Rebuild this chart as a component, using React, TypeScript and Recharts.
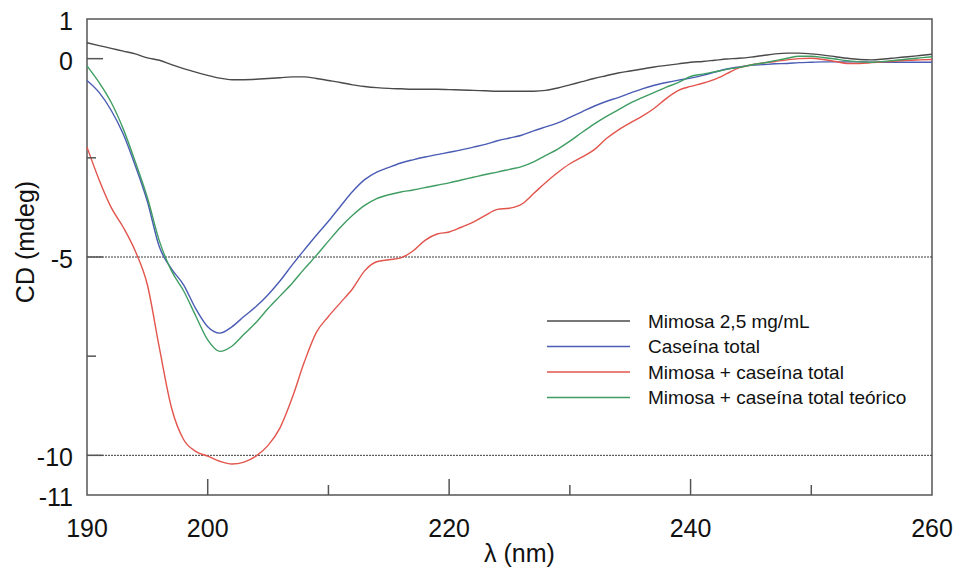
import React from 'react';
import { LineChart, Line, XAxis, YAxis, ReferenceLine, ReferenceArea, Legend } from 'recharts';

const wavelength = [
  190, 191, 192, 193, 194, 195, 196, 197, 198, 199,
  200, 201, 202, 203, 204, 205, 206, 207, 208, 209,
  210, 211, 212, 213, 214, 215, 216, 217, 218, 219,
  220, 221, 222, 223, 224, 225, 226, 227, 228, 229,
  230, 231, 232, 233, 234, 235, 236, 237, 238, 239,
  240, 241, 242, 243, 244, 245, 246, 247, 248, 249,
  250, 251, 252, 253, 254, 255, 256, 257, 258, 259, 260,
];

const mimosa = [
  0.40, 0.33, 0.26, 0.19, 0.12, 0.02, -0.04, -0.15, -0.25, -0.34,
  -0.42, -0.49, -0.53, -0.53, -0.52, -0.50, -0.48, -0.46, -0.46, -0.50,
  -0.55, -0.60, -0.66, -0.70, -0.73, -0.75, -0.76, -0.77, -0.77, -0.77,
  -0.78, -0.79, -0.80, -0.81, -0.82, -0.82, -0.82, -0.82, -0.80, -0.74,
  -0.66, -0.58, -0.50, -0.43, -0.36, -0.31, -0.26, -0.21, -0.17, -0.13,
  -0.09, -0.07, -0.04, -0.01, 0.01, 0.04, 0.08, 0.12, 0.14, 0.14,
  0.12, 0.09, 0.05, 0.01, -0.02, -0.03, -0.01, 0.02, 0.05, 0.08, 0.11,
];

const caseina = [
  -0.55, -0.85, -1.30, -1.90, -2.70, -3.60, -4.75, -5.30, -5.70, -6.30,
  -6.76, -6.92, -6.76, -6.50, -6.25, -5.95, -5.60, -5.20, -4.82, -4.45,
  -4.10, -3.72, -3.35, -3.05, -2.86, -2.74, -2.63, -2.55, -2.48, -2.42,
  -2.36, -2.30, -2.23, -2.16, -2.07, -2.00, -1.93, -1.82, -1.72, -1.62,
  -1.48, -1.34, -1.20, -1.08, -0.98, -0.87, -0.76, -0.67, -0.60, -0.54,
  -0.49, -0.42, -0.34, -0.26, -0.21, -0.17, -0.15, -0.13, -0.12, -0.10,
  -0.09, -0.08, -0.08, -0.08, -0.08, -0.09, -0.09, -0.09, -0.09, -0.09, -0.09,
];

const mezcla = [
  -2.23, -3.05, -3.75, -4.25, -4.85, -5.70, -7.30, -8.80, -9.60, -9.90,
  -10.02, -10.15, -10.22, -10.17, -10.02, -9.75, -9.30, -8.55, -7.65, -6.90,
  -6.50, -6.15, -5.80, -5.35, -5.12, -5.07, -5.02, -4.85, -4.58, -4.42,
  -4.37, -4.25, -4.12, -3.95, -3.80, -3.77, -3.67, -3.40, -3.12, -2.87,
  -2.65, -2.48, -2.30, -2.02, -1.80, -1.62, -1.45, -1.25, -1.00, -0.80,
  -0.70, -0.62, -0.52, -0.38, -0.23, -0.16, -0.11, -0.07, -0.03, 0.00,
  0.01, -0.02, -0.07, -0.12, -0.12, -0.10, -0.08, -0.06, -0.04, -0.03, -0.02,
];

const teorico = [
  -0.18, -0.60, -1.10, -1.77, -2.60, -3.50, -4.60, -5.35, -5.85, -6.48,
  -7.09, -7.38, -7.25, -6.95, -6.65, -6.30, -5.98, -5.66, -5.30, -4.96,
  -4.60, -4.25, -3.95, -3.70, -3.53, -3.43, -3.36, -3.31, -3.25, -3.19,
  -3.13, -3.06, -2.99, -2.92, -2.86, -2.79, -2.72, -2.60, -2.44, -2.28,
  -2.08, -1.86, -1.65, -1.46, -1.29, -1.12, -0.98, -0.85, -0.72, -0.60,
  -0.45, -0.39, -0.33, -0.27, -0.22, -0.16, -0.11, -0.05, 0.01, 0.06,
  0.06, 0.03, -0.01, -0.05, -0.08, -0.09, -0.07, -0.04, -0.01, 0.02, 0.05,
];

const xTicks = [190, 200, 210, 220, 230, 240, 250, 260];
const xLabels = [190, 200, 220, 240, 260];
const xMajor = [200, 220, 240];
const xMinor = [210, 230, 250];

const yTicks = [1, 0, -2.5, -5, -7.5, -10, -11];
const yLabels = [1, 0, -5, -10, -11];
const yMajor = [0, -5, -10];
const yMinor = [-2.5, -7.5];

const gridValues = [-5, -10];

const series = [
  { key: 'mimosa', name: 'Mimosa 2,5 mg/mL', color: '#4a4a4a', values: mimosa },
  { key: 'caseina', name: 'Caseína total', color: '#4a5cb4', values: caseina },
  { key: 'mezcla', name: 'Mimosa + caseína total', color: '#e2544c', values: mezcla },
  { key: 'teorico', name: 'Mimosa + caseína total teórico', color: '#3f9d62', values: teorico },
];

const data = wavelength.map((nm, i) => {
  const row: any = { nm };
  series.forEach((s) => {
    row[s.key] = s.values[i];
  });
  return row;
});

const FONT = '"Liberation Sans", Arial, Helvetica, sans-serif';
const AXIS_COLOR = '#555';
const TEXT_COLOR = '#111';

const XTick = (props: any) => {
  const { x, y, payload } = props;
  const v = payload.value;
  const len = xMajor.includes(v) ? 16 : xMinor.includes(v) ? 10 : 0;
  return (
    <g>
      {len > 0 && <line x1={x} x2={x} y1={y} y2={y - len} stroke={AXIS_COLOR} strokeWidth={1.5} />}
      {xLabels.includes(v) && (
        <text x={x} y={y + 42} textAnchor="middle" fontSize={25} fontFamily={FONT} fill={TEXT_COLOR}>
          {v}
        </text>
      )}
    </g>
  );
};

const YTick = (props: any) => {
  const { x, y, payload } = props;
  const v = payload.value;
  const len = yMajor.includes(v) ? 16 : yMinor.includes(v) ? 9 : 0;
  return (
    <g>
      {len > 0 && <line x1={x} x2={x + len} y1={y} y2={y} stroke={AXIS_COLOR} strokeWidth={1.5} />}
      {yLabels.includes(v) && (
        <text x={x - 14} y={y + 11} textAnchor="end" fontSize={25} fontFamily={FONT} fill={TEXT_COLOR}>
          {v}
        </text>
      )}
    </g>
  );
};

const renderLegend = () => (
  <svg width={400} height={110}>
    {series.map((s, i) => {
      const cy = 16 + i * 25.5;
      return (
        <g key={s.key}>
          <line x1={0} x2={83} y1={cy} y2={cy} stroke={s.color} strokeWidth={1.3} />
          <text x={101} y={cy} dy="0.36em" fontSize={19} fontFamily={FONT} fill={TEXT_COLOR}>
            {s.name}
          </text>
        </g>
      );
    })}
  </svg>
);

const XLabel = (props: any) => {
  const { viewBox } = props;
  return (
    <text
      x={viewBox.x + viewBox.width / 2 + 10}
      y={viewBox.y + viewBox.height - 9}
      textAnchor="middle"
      fontSize={25}
      fontFamily={FONT}
      fill={TEXT_COLOR}
    >
      λ (nm)
    </text>
  );
};

const YLabel = (props: any) => {
  const { viewBox } = props;
  const cx = viewBox.x + 34;
  const cy = viewBox.y + viewBox.height / 2 - 15;
  return (
    <text
      x={cx}
      y={cy}
      transform={`rotate(-90, ${cx}, ${cy})`}
      textAnchor="middle"
      fontSize={25}
      fontFamily={FONT}
      fill={TEXT_COLOR}
    >
      CD (mdeg)
    </text>
  );
};

export default function App() {
  return (
    <div style={{ position: 'absolute', left: 0, top: 0, background: '#fff' }}>
      <LineChart width={957} height={571} data={data} margin={{ top: 19, right: 25, left: 0, bottom: 0 }}>
        <XAxis
          dataKey="nm"
          type="number"
          domain={[190, 260]}
          ticks={xTicks}
          interval={0}
          tickSize={0}
          tickMargin={0}
          tickLine={false}
          axisLine={false}
          height={76}
          tick={<XTick />}
          label={XLabel}
        />
        <YAxis
          type="number"
          domain={[-11, 1]}
          ticks={yTicks}
          interval={0}
          tickSize={0}
          tickMargin={0}
          tickLine={false}
          axisLine={false}
          width={87}
          tick={<YTick />}
          label={YLabel}
        />
        {gridValues.map((g) => (
          <ReferenceLine key={g} y={g} stroke="#3a3a3a" strokeWidth={1} strokeDasharray="2 1" />
        ))}
        <ReferenceArea x1={190} x2={260} y1={-11} y2={1} fill="none" stroke={AXIS_COLOR} strokeWidth={1.5} />
        {series.map((s) => (
          <Line
            key={s.key}
            dataKey={s.key}
            name={s.name}
            type="monotone"
            stroke={s.color}
            strokeWidth={1.4}
            dot={false}
            activeDot={false}
            isAnimationActive={false}
          />
        ))}
        <Legend
          layout="vertical"
          align="center"
          verticalAlign="middle"
          content={renderLegend}
          wrapperStyle={{ position: 'absolute', left: 547, top: 305, width: 400, height: 110 }}
        />
      </LineChart>
    </div>
  );
}
